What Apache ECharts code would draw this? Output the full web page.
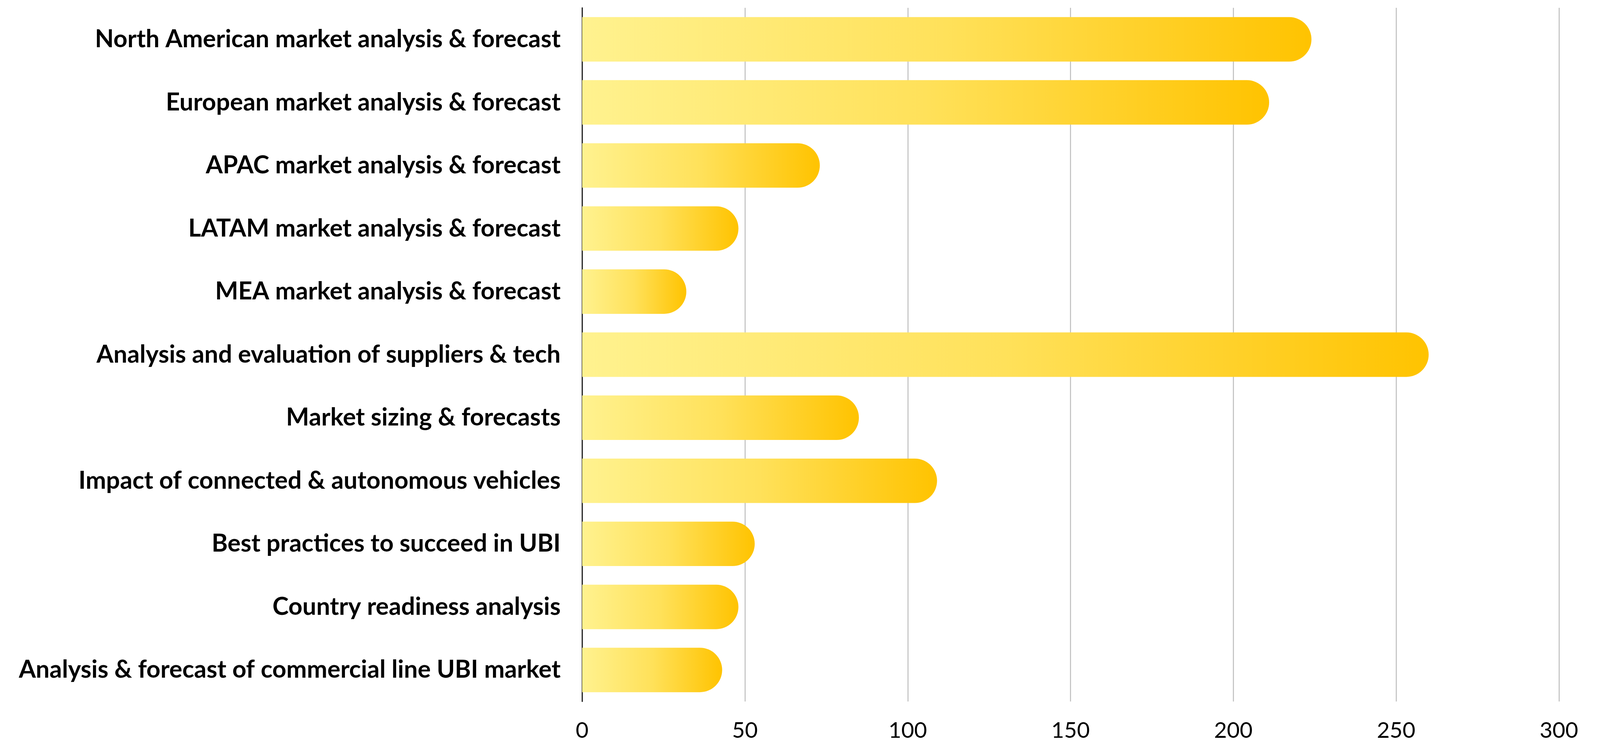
<!DOCTYPE html>
<html>
<head>
<meta charset="utf-8">
<script src="https://cdn.jsdelivr.net/npm/echarts@6/dist/echarts.min.js"></script>
<style>
html,body{margin:0;padding:0;background:#fff;overflow:hidden;width:100%;height:100%;}
#chart{width:100vw;height:100vh;}
</style>
</head>
<body>
<div id="chart"></div>
<script>
const categories = [
  "North American market analysis & forecast",
  "European market analysis & forecast",
  "APAC market analysis & forecast",
  "LATAM market analysis & forecast",
  "MEA market analysis & forecast",
  "Analysis and evaluation of suppliers & tech",
  "Market sizing & forecasts",
  "Impact of connected & autonomous vehicles",
  "Best practices to succeed in UBI",
  "Country readiness analysis",
  "Analysis & forecast of commercial line UBI market"
];
const values = [224, 211, 73, 48, 32, 260, 85, 109, 53, 48, 43];
const xTicks = [0, 50, 100, 150, 200, 250, 300];

const el = document.getElementById('chart');
const W = el.clientWidth || window.innerWidth;
const H = el.clientHeight || window.innerHeight;
const s = W / 4906;
const sy = H / 1911;

const gridLeft = 1785 * s, gridRight = 126 * s, gridTop = 20 * sy, gridBottom = 114 * sy;
const band = (H - gridTop - gridBottom) / categories.length;
const barW = band * 0.705;

const chart = echarts.init(el);
chart.setOption({
  animation: false,
  backgroundColor: '#ffffff',
  grid: { left: gridLeft, right: gridRight, top: gridTop, bottom: gridBottom, containLabel: false },
  xAxis: {
    type: 'value',
    min: xTicks[0],
    max: xTicks[xTicks.length - 1],
    interval: 50,
    axisLine: { show: false },
    axisTick: { show: false },
    splitLine: { show: true, lineStyle: { color: '#bdbdbd', width: Math.max(1, 3 * s) } },
    axisLabel: {
      margin: 46 * sy,
      fontFamily: 'Lato',
      fontSize: 68 * s,
      color: '#000',
      formatter: v => String(v)
    }
  },
  yAxis: {
    type: 'category',
    inverse: true,
    data: categories,
    axisLine: { show: true, lineStyle: { color: '#000', width: Math.max(1, 3 * s) } },
    axisTick: { show: false },
    axisLabel: {
      margin: 66 * s,
      fontFamily: 'Lato',
      fontWeight: 'bold',
      fontSize: 75 * s,
      color: '#000'
    }
  },
  series: [{
    type: 'bar',
    data: values,
    barWidth: barW,
    itemStyle: {
      borderRadius: [0, barW / 2, barW / 2, 0],
      color: new echarts.graphic.LinearGradient(0, 0, 1, 0, [
        { offset: 0, color: '#FFF28F' },
        { offset: 0.5, color: '#FFE15A' },
        { offset: 1, color: '#FFC300' }
      ])
    }
  }]
});
</script>
</body>
</html>
